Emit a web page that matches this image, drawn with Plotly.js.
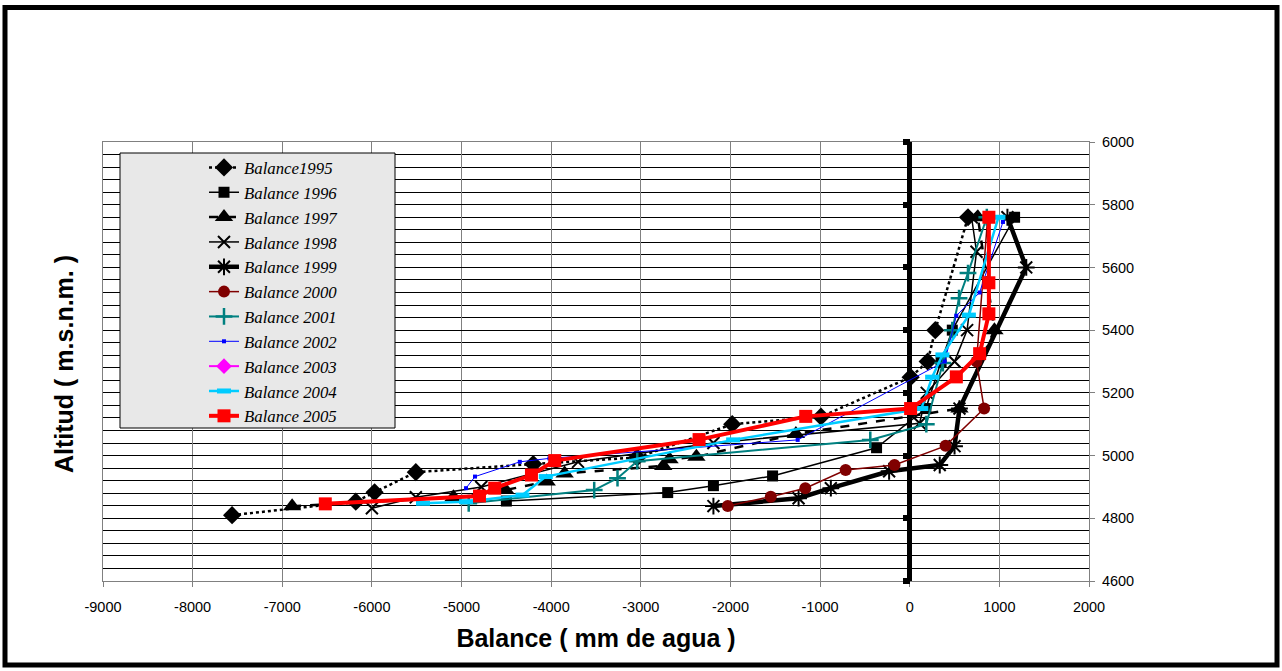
<!DOCTYPE html>
<html>
<head>
<meta charset="utf-8">
<script src="https://cdn.plot.ly/plotly-3.0.1.min.js"></script>
<style>
  html, body { margin: 0; padding: 0; background: #ffffff; }
  #chart { width: 1282px; height: 671px; }
</style>
</head>
<body>
<div id="chart"></div>
<script>
// ---- Data (balance in mm de agua, altitude in m.s.n.m.) ----
const names = ["Balance1995", "Balance 1996", "Balance 1997", "Balance 1998", "Balance 1999",
               "Balance 2000", "Balance 2001", "Balance 2002", "Balance 2003", "Balance 2004", "Balance 2005"];

const bal1995 = [-7560, -6180, -5970, -5510, -4200, -3040, -1980, -990, 10, 200, 285, 650];
const alt1995 = [4810, 4853, 4883, 4947, 4973, 4994, 5100, 5124, 5250, 5300, 5400, 5760];

const bal1996 = [-4500, -2700, -2190, -1530, -370, 180, 350, 475, 1170];
const alt1996 = [4855, 4882, 4904, 4935, 5025, 5150, 5300, 5400, 5760];

const bal1997 = [-6890, -5090, -4510, -4050, -3850, -2750, -2680, -2380, -1270, 555, 945, 760];
const alt1997 = [4838, 4867, 4890, 4917, 4943, 4967, 4988, 4996, 5069, 5150, 5400, 5760];

const bal1998 = [-6000, -5510, -4780, -3700, -2190, 110, 190, 500, 640, 745, 690];
const alt1998 = [4832, 4867, 4900, 4980, 5040, 5103, 5200, 5300, 5400, 5650, 5760];

const bal1999 = [-2190, -1240, -880, -230, 335, 500, 555, 1300, 1090];
const alt1999 = [4839, 4864, 4896, 4950, 4970, 5030, 5150, 5600, 5760];

const bal2000 = [-2030, -1550, -1165, -715, -170, 400, 830, 745, 870];
const alt2000 = [4839, 4869, 4896, 4954, 4970, 5031, 5150, 5300, 5760];

const bal2001 = [-4920, -3520, -3260, -3040, -440, 185, 370, 475, 550, 650, 860];
const alt2001 = [4848, 4890, 4928, 4982, 5050, 5100, 5295, 5400, 5502, 5582, 5760];

const bal2002 = [-4950, -4850, -4350, -4020, -1250, 390, 520, 780, 1040];
const alt2002 = [4896, 4933, 4980, 4991, 5050, 5300, 5446, 5520, 5745];

// Balance 2003 is not visible anywhere in the picture (hidden under the other series)
const bal2003 = [null];
const alt2003 = [null];

const bal2004 = [-5430, -4950, -4320, -4060, -1970, 130, 250, 365, 660, 990];
const alt2004 = [4848, 4853, 4874, 4933, 5050, 5150, 5250, 5321, 5448, 5760];

const bal2005 = [-6520, -4800, -4630, -4220, -3960, -2350, -1160, 10, 520, 780, 883, 883, 883];
const alt2005 = [4846, 4871, 4896, 4938, 4984, 5051, 5125, 5150, 5251, 5325, 5452, 5551, 5760];

const xTickVals = [-9000, -8000, -7000, -6000, -5000, -4000, -3000, -2000, -1000, 0, 1000, 2000];
const yTickVals = [4600, 4800, 5000, 5200, 5400, 5600, 5800, 6000];

// ---- Styles ----
const W = 1282, H = 671;
const M = {l: 103, r: 193, t: 142, b: 90};
const PW = W - M.l - M.r, PH = H - M.t - M.b;
const px2x = px => (px - M.l) / PW;
const px2y = py => (H - M.b - py) / PH;

function tr(x, y, name, lineStyle, markerStyle) {
  return {x: x, y: y, name: name, type: 'scatter', mode: 'lines+markers',
          line: lineStyle, marker: markerStyle, hoverinfo: 'x+y+name'};
}

const traces = [
  tr(bal1995, alt1995, names[0], {color: '#000000', width: 2.5, dash: 'dot'},
     {symbol: 'diamond', size: 14, color: '#000000'}),
  tr(bal1996, alt1996, names[1], {color: '#000000', width: 1.5},
     {symbol: 'square', size: 11, color: '#000000'}),
  tr(bal1997, alt1997, names[2], {color: '#000000', width: 2.5, dash: 'dash'},
     {symbol: 'triangle-up', size: 16, color: '#000000'}),
  tr(bal1998, alt1998, names[3], {color: '#000000', width: 1.5},
     {symbol: 'x-thin-open', size: 12, color: '#000000', line: {width: 2, color: '#000000'}}),
  tr(bal1999, alt1999, names[4], {color: '#000000', width: 4.5},
     {symbol: 'asterisk-open', size: 14, color: '#000000', line: {width: 2, color: '#000000'}}),
  tr(bal2000, alt2000, names[5], {color: '#800000', width: 1.5},
     {symbol: 'circle', size: 12, color: '#800000'}),
  tr(bal2001, alt2001, names[6], {color: '#008080', width: 2},
     {symbol: 'cross-thin-open', size: 12, color: '#008080', line: {width: 2.5, color: '#008080'}}),
  tr(bal2002, alt2002, names[7], {color: '#0000ff', width: 1},
     {symbol: 'square', size: 4, color: '#0000ff'}),
  Object.assign(tr(bal2003, alt2003, names[8], {color: '#ff00ff', width: 2},
     {symbol: 'diamond', size: 12, color: '#ff00ff'}), {yaxis: 'y2'}),
  tr(bal2004, alt2004, names[9], {color: '#00ccff', width: 2.5},
     {symbol: 'line-ew-open', size: 10, color: '#00ccff', line: {width: 5, color: '#00ccff'}}),
  tr(bal2005, alt2005, names[10], {color: '#ff0000', width: 4},
     {symbol: 'square', size: 13, color: '#ff0000'})
];

const layout = {
  width: W, height: H,
  margin: M,
  paper_bgcolor: '#ffffff', plot_bgcolor: '#ffffff',
  font: {family: '"Liberation Sans", Arial, sans-serif', size: 14, color: '#000000'},
  showlegend: true,
  legend: {
    x: px2x(204), y: px2y(150), xanchor: 'left', yanchor: 'top',
    bgcolor: 'rgba(0,0,0,0)', borderwidth: 0,
    font: {family: '"Liberation Serif", "Times New Roman", serif', size: 16.8, style: 'italic', color: '#000000'},
    traceorder: 'normal'
  },
  xaxis: {
    range: [-9000, 2000], tickmode: 'array', tickvals: xTickVals,
    ticktext: xTickVals.map(String),
    showgrid: true, gridcolor: '#808080', gridwidth: 1,
    zeroline: true, zerolinecolor: '#000000', zerolinewidth: 5,
    showline: true, linecolor: '#808080', linewidth: 1, mirror: true,
    ticks: 'outside', ticklen: 5, tickcolor: '#808080',
    ticklabelstandoff: 8,
    tickfont: {family: '"Liberation Sans", Arial, sans-serif', size: 14.5},
    title: {text: 'Balance ( mm de agua )', standoff: 15,
            font: {family: '"Liberation Sans", Arial, sans-serif', size: 25, weight: 'bold'}},
    fixedrange: true
  },
  yaxis: {
    range: [4600, 6000], side: 'right', tickmode: 'array', tickvals: yTickVals,
    ticktext: yTickVals.map(String),
    showgrid: true, gridcolor: '#000000', gridwidth: 1,
    minor: {tick0: 4600, dtick: 40, showgrid: true, gridcolor: '#000000', gridwidth: 1, ticks: ''},
    zeroline: false,
    showline: true, linecolor: '#808080', linewidth: 1, mirror: true,
    ticks: 'outside', ticklen: 5, tickcolor: '#808080',
    ticklabelstandoff: 4,
    tickfont: {family: '"Liberation Sans", Arial, sans-serif', size: 14.5},
    fixedrange: true
  },
  yaxis2: {
    overlaying: 'y', anchor: 'free', position: 9 / 11, side: 'left',
    range: [4600, 6000], tickmode: 'linear', tick0: 4600, dtick: 200,
    showgrid: false, zeroline: false, showline: false,
    ticks: 'outside', ticklen: 7, tickwidth: 6, tickcolor: '#000000',
    showticklabels: false, fixedrange: true
  },
  annotations: [{
    text: 'Altitud ( m.s.n.m. )', textangle: -90, showarrow: false,
    xref: 'paper', yref: 'paper', x: px2x(64), y: px2y(364), xanchor: 'center', yanchor: 'middle',
    font: {family: '"Liberation Sans", Arial, sans-serif', size: 25, weight: 'bold', color: '#000000'}
  }],
  shapes: [
    // legend box
    {type: 'rect', xref: 'paper', yref: 'paper', layer: 'above',
     x0: px2x(120), x1: px2x(395), y0: px2y(428), y1: px2y(153),
     fillcolor: '#e8e8e8', line: {color: '#000000', width: 1}},
    // outer frame of the picture
    {type: 'rect', xref: 'paper', yref: 'paper', layer: 'above',
     x0: px2x(5), x1: px2x(1277), y0: px2y(665), y1: px2y(7.5),
     fillcolor: 'rgba(0,0,0,0)', line: {color: '#000000', width: 5}}
  ]
};

Plotly.newPlot('chart', traces, layout, {displayModeBar: false, staticPlot: true});
</script>
</body>
</html>
